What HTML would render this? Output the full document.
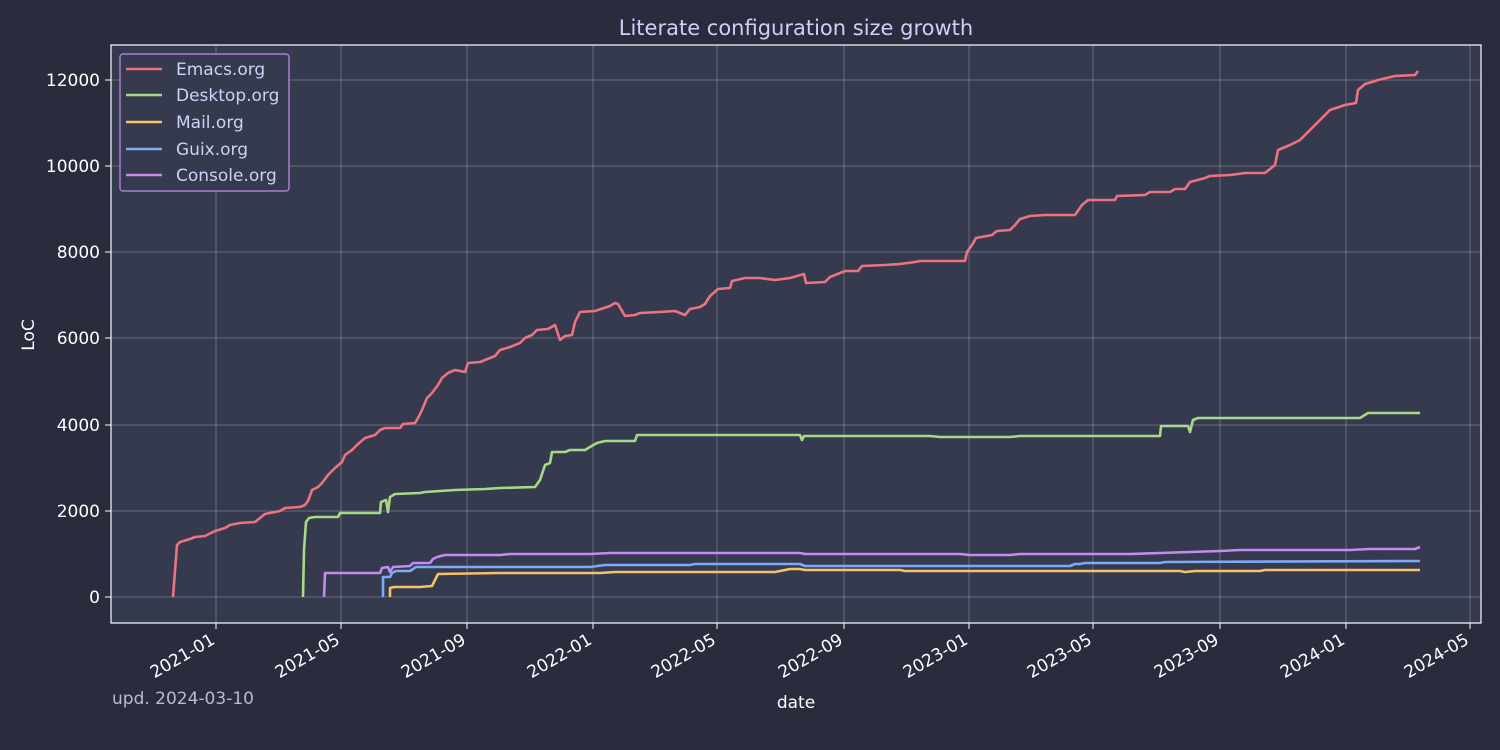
<!DOCTYPE html>
<html><head><meta charset="utf-8"><style>
html,body{margin:0;padding:0;background:#2a2c3e;}
svg{display:block;font-family:"DejaVu Sans","Liberation Sans",sans-serif;}
</style></head><body>
<svg width="1500" height="750" viewBox="0 0 1500 750" xmlns="http://www.w3.org/2000/svg">
<rect width="1500" height="750" fill="#2a2c3e"/>
<rect x="111" y="45" width="1370" height="578" fill="#363a4f"/>
<g stroke="#ffffff" stroke-opacity="0.25" stroke-width="1">
<line x1="111" x2="1481" y1="80" y2="80"/><line x1="111" x2="1481" y1="166" y2="166"/><line x1="111" x2="1481" y1="252" y2="252"/><line x1="111" x2="1481" y1="338" y2="338"/><line x1="111" x2="1481" y1="425" y2="425"/><line x1="111" x2="1481" y1="511" y2="511"/><line x1="111" x2="1481" y1="597" y2="597"/>
<line y1="45" y2="623" x1="216" x2="216"/><line y1="45" y2="623" x1="341" x2="341"/><line y1="45" y2="623" x1="467" x2="467"/><line y1="45" y2="623" x1="593" x2="593"/><line y1="45" y2="623" x1="717" x2="717"/><line y1="45" y2="623" x1="844" x2="844"/><line y1="45" y2="623" x1="969" x2="969"/><line y1="45" y2="623" x1="1093" x2="1093"/><line y1="45" y2="623" x1="1220" x2="1220"/><line y1="45" y2="623" x1="1346" x2="1346"/><line y1="45" y2="623" x1="1470" x2="1470"/>
</g>
<rect x="111" y="45" width="1370" height="578" fill="none" stroke="#ffffff" stroke-width="1.2"/>
<g stroke="#ffffff" stroke-width="1">
<line x1="105" x2="111" y1="80" y2="80"/><line x1="105" x2="111" y1="166" y2="166"/><line x1="105" x2="111" y1="252" y2="252"/><line x1="105" x2="111" y1="338" y2="338"/><line x1="105" x2="111" y1="425" y2="425"/><line x1="105" x2="111" y1="511" y2="511"/><line x1="105" x2="111" y1="597" y2="597"/>
<line y1="623" y2="629" x1="216" x2="216"/><line y1="623" y2="629" x1="341" x2="341"/><line y1="623" y2="629" x1="467" x2="467"/><line y1="623" y2="629" x1="593" x2="593"/><line y1="623" y2="629" x1="717" x2="717"/><line y1="623" y2="629" x1="844" x2="844"/><line y1="623" y2="629" x1="969" x2="969"/><line y1="623" y2="629" x1="1093" x2="1093"/><line y1="623" y2="629" x1="1220" x2="1220"/><line y1="623" y2="629" x1="1346" x2="1346"/><line y1="623" y2="629" x1="1470" x2="1470"/>
</g>
<g fill="#ffffff" font-size="17" text-anchor="end">
<text x="100" y="86">12000</text><text x="100" y="172">10000</text><text x="100" y="258">8000</text><text x="100" y="344">6000</text><text x="100" y="431">4000</text><text x="100" y="517">2000</text><text x="100" y="603">0</text>
</g>
<g fill="#ffffff" font-size="17" text-anchor="end">
<text transform="translate(216,643) rotate(-30)">2021-01</text>
<text transform="translate(341,643) rotate(-30)">2021-05</text>
<text transform="translate(467,643) rotate(-30)">2021-09</text>
<text transform="translate(593,643) rotate(-30)">2022-01</text>
<text transform="translate(717,643) rotate(-30)">2022-05</text>
<text transform="translate(844,643) rotate(-30)">2022-09</text>
<text transform="translate(969,643) rotate(-30)">2023-01</text>
<text transform="translate(1093,643) rotate(-30)">2023-05</text>
<text transform="translate(1220,643) rotate(-30)">2023-09</text>
<text transform="translate(1346,643) rotate(-30)">2024-01</text>
<text transform="translate(1470,643) rotate(-30)">2024-05</text>
</g>
<text x="796" y="35" font-size="21" fill="#cad3f5" text-anchor="middle">Literate configuration size growth</text>
<text x="796" y="708" font-size="17" fill="#ffffff" text-anchor="middle">date</text>
<text transform="translate(34,335) rotate(-90)" font-size="17" fill="#ffffff" text-anchor="middle">LoC</text>
<text x="112" y="704" font-size="17" fill="#b8bcc8">upd. 2024-03-10</text>
<g fill="none" stroke-width="2.6" stroke-linejoin="round">
<polyline stroke="#ed7380" points="173,597 177,545 180,542 190,539 195,537 205,536 215,531 225,528 230,525 240,523 255,522 260,518 265,514 280,511 285,508 300,507 305,505 308,501 312,490 318,487 322,483 328,475 335,468 342,462 345,455 352,450 358,444 365,438 375,435 380,430 385,428 400,428 403,424 415,423 418,418 422,410 427,398 432,393 438,385 442,378 448,373 455,370 465,372 468,363 480,362 485,360 495,356 500,350 510,347 520,343 525,338 532,335 537,330 548,329 555,325 560,340 565,336 572,335 575,322 580,312 595,311 610,306 615,303 618,304 625,316 635,315 640,313 660,312 675,311 685,315 690,309 700,307 705,304 710,296 718,289 730,288 732,281 745,278 760,278 775,280 790,278 804,274 806,283 825,282 830,277 845,271 858,271 862,266 885,265 900,264 915,262 920,261 940,261 965,261 967,252 972,245 976,238 992,235 997,231 1010,230 1015,225 1020,219 1030,216 1045,215 1075,215 1082,205 1088,200 1115,200 1117,196 1145,195 1150,192 1170,192 1175,189 1185,189 1190,182 1205,178 1210,176 1230,175 1245,173 1265,173 1275,165 1278,150 1290,145 1300,140 1330,110 1345,105 1356,103 1358,90 1365,84 1372,82 1378,80 1395,76 1415,75 1418,71"/>
<polyline stroke="#a6da85" points="303,597 304,550 306,522 309,518 315,517 338,517 340,513 380,513 381,502 386,500 388,512 390,497 395,494 420,493 425,492 440,491 455,490 485,489 500,488 535,487 540,480 545,465 550,463 552,452 565,452 570,450 585,450 590,447 597,443 605,441 635,441 637,435 670,435 695,435 800,435 802,440 804,436 930,436 940,437 1010,437 1020,436 1160,436 1161,426 1188,426 1190,432 1193,420 1198,418 1360,418 1368,413 1420,413"/>
<polyline stroke="#f5c26b" points="390,597 390,588 394,587 420,587 432,586 438,574 500,573 600,573 615,572 700,572 775,572 790,569 800,569 805,570 900,570 905,571 1180,571 1185,572 1195,571 1260,571 1265,570 1420,570"/>
<polyline stroke="#7fa8f5" points="383,597 383,577 390,577 392,573 396,571 410,571 416,567 460,567 590,567 605,565 690,565 695,564 800,564 805,566 1070,566 1075,564 1080,564 1085,563 1160,563 1165,562 1420,561"/>
<polyline stroke="#c38cf0" points="324,597 325,573 380,573 382,568 388,567 390,572 393,567 410,566 413,563 430,563 433,559 437,557 445,555 500,555 510,554 590,554 610,553 800,553 805,554 960,554 970,555 1010,555 1020,554 1130,554 1160,553 1220,551 1240,550 1350,550 1370,549 1415,549 1420,547"/>
</g>
<rect x="120" y="54" width="169" height="137" rx="3" fill="#363a4f" stroke="#a87ecf" stroke-width="1.5"/>
<g stroke-width="2.6">
<line x1="126" x2="162" y1="69" y2="69" stroke="#ed7380"/>
<line x1="126" x2="162" y1="95" y2="95" stroke="#a6da85"/>
<line x1="126" x2="162" y1="122" y2="122" stroke="#f5c26b"/>
<line x1="126" x2="162" y1="149" y2="149" stroke="#7fa8f5"/>
<line x1="126" x2="162" y1="175" y2="175" stroke="#c38cf0"/>
</g>
<g fill="#cad3f5" font-size="17">
<text x="176" y="75">Emacs.org</text>
<text x="176" y="101">Desktop.org</text>
<text x="176" y="128">Mail.org</text>
<text x="176" y="155">Guix.org</text>
<text x="176" y="181">Console.org</text>
</g>
</svg>
</body></html>
